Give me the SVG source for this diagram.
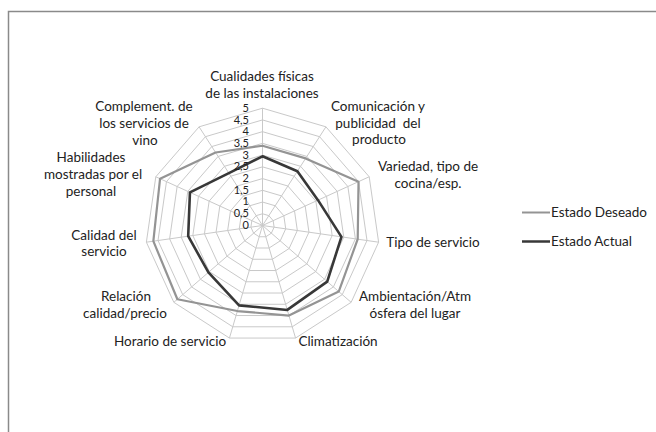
<svg xmlns="http://www.w3.org/2000/svg" width="656" height="432" viewBox="0 0 656 432">
<style>
.grid{fill:none;stroke:#c9c9c9;stroke-width:1}
.spoke{stroke:#c9c9c9;stroke-width:1}
.des{fill:none;stroke:#949494;stroke-width:2.2;stroke-linejoin:round}
.act{fill:none;stroke:#383838;stroke-width:2.6;stroke-linejoin:round}
.lbl{font-family:Lato,"Liberation Sans",sans-serif;font-size:13.5px;fill:#222222;text-anchor:middle}
.num{font-family:Lato,"Liberation Sans",sans-serif;font-size:11px;fill:#222222;text-anchor:end}
.leg{font-family:Lato,"Liberation Sans",sans-serif;font-size:13.5px;fill:#222222}
</style>
<rect x="0" y="0" width="656" height="432" fill="#ffffff"/>
<rect id="frame" x="8.5" y="11.5" width="700" height="500" fill="none" stroke="#8a8a8a" stroke-width="1.5"/>
<g id="chart" transform="translate(262.5,225.5)">
<g id="grid">
<polygon class="grid" points="0,-11.73 6.34,-9.87 10.67,-4.87 11.61,1.67 8.86,7.68 3.30,11.25 -3.30,11.25 -8.86,7.68 -11.61,1.67 -10.67,-4.87 -6.34,-9.87"/>
<polygon class="grid" points="0,-23.46 12.68,-19.74 21.34,-9.75 23.22,3.34 17.73,15.36 6.61,22.51 -6.61,22.51 -17.73,15.36 -23.22,3.34 -21.34,-9.75 -12.68,-19.74"/>
<polygon class="grid" points="0,-35.19 19.03,-29.60 32.01,-14.62 34.83,5.01 26.59,23.04 9.91,33.76 -9.91,33.76 -26.59,23.04 -34.83,5.01 -32.01,-14.62 -19.03,-29.60"/>
<polygon class="grid" points="0,-46.92 25.37,-39.47 42.68,-19.49 46.44,6.68 35.46,30.73 13.22,45.02 -13.22,45.02 -35.46,30.73 -46.44,6.68 -42.68,-19.49 -25.37,-39.47"/>
<polygon class="grid" points="0,-58.65 31.71,-49.34 53.35,-24.36 58.05,8.35 44.32,38.41 16.52,56.27 -16.52,56.27 -44.32,38.41 -58.05,8.35 -53.35,-24.36 -31.71,-49.34"/>
<polygon class="grid" points="0,-70.38 38.05,-59.21 64.02,-29.24 69.66,10.02 53.19,46.09 19.83,67.53 -19.83,67.53 -53.19,46.09 -69.66,10.02 -64.02,-29.24 -38.05,-59.21"/>
<polygon class="grid" points="0,-82.11 44.39,-69.08 74.69,-34.11 81.27,11.69 62.05,53.77 23.13,78.78 -23.13,78.78 -62.05,53.77 -81.27,11.69 -74.69,-34.11 -44.39,-69.08"/>
<polygon class="grid" points="0,-93.84 50.73,-78.94 85.36,-38.98 92.88,13.35 70.92,61.45 26.44,90.04 -26.44,90.04 -70.92,61.45 -92.88,13.35 -85.36,-38.98 -50.73,-78.94"/>
<polygon class="grid" points="0,-105.57 57.08,-88.81 96.03,-43.86 104.50,15.02 79.78,69.13 29.74,101.29 -29.74,101.29 -79.78,69.13 -104.50,15.02 -96.03,-43.86 -57.08,-88.81"/>
<polygon class="grid" points="0,-117.30 63.42,-98.68 106.70,-48.73 116.11,16.69 88.65,76.82 33.05,112.55 -33.05,112.55 -88.65,76.82 -116.11,16.69 -106.70,-48.73 -63.42,-98.68"/>
</g>
<g id="spokes">
<line class="spoke" x1="0" y1="0" x2="0" y2="-117.30"/>
<line class="spoke" x1="0" y1="0" x2="63.42" y2="-98.68"/>
<line class="spoke" x1="0" y1="0" x2="106.70" y2="-48.73"/>
<line class="spoke" x1="0" y1="0" x2="116.11" y2="16.69"/>
<line class="spoke" x1="0" y1="0" x2="88.65" y2="76.82"/>
<line class="spoke" x1="0" y1="0" x2="33.05" y2="112.55"/>
<line class="spoke" x1="0" y1="0" x2="-33.05" y2="112.55"/>
<line class="spoke" x1="0" y1="0" x2="-88.65" y2="76.82"/>
<line class="spoke" x1="0" y1="0" x2="-116.11" y2="16.69"/>
<line class="spoke" x1="0" y1="0" x2="-106.70" y2="-48.73"/>
<line class="spoke" x1="0" y1="0" x2="-63.42" y2="-98.68"/>
</g>
<g id="series-deseado">
<polygon class="des" points="0,-79.76 43.12,-67.10 96.03,-43.86 95.21,13.69 76.24,66.06 26.44,90.04 -25.12,85.54 -85.11,73.74 -109.14,15.69 -102.43,-46.78 -46.93,-73.02"/>
</g>
<g id="series-actual">
<polygon class="act" points="0,-69.21 34.88,-54.28 55.49,-25.34 78.95,11.35 64.72,56.08 24.79,84.42 -23.46,79.91 -54.07,46.85 -74.31,10.68 -72.55,-33.13 -33.61,-52.30"/>
</g>
</g>
<g id="scale">
<text class="num" x="249" y="112">5</text>
<text class="num" x="249" y="123.5">4,5</text>
<text class="num" x="249" y="135">4</text>
<text class="num" x="249" y="147">3,5</text>
<text class="num" x="249" y="158.5">3</text>
<text class="num" x="249" y="170">2,5</text>
<text class="num" x="249" y="182">2</text>
<text class="num" x="249" y="193.5">1,5</text>
<text class="num" x="249" y="205">1</text>
<text class="num" x="249" y="217">0,5</text>
<text class="num" x="249" y="228.5">0</text>
</g>
<g id="axis-labels">
<g id="ax0"><text class="lbl" x="262" y="80.5">Cualidades físicas</text><text class="lbl" x="262" y="97.5">de las instalaciones</text></g>
<g id="ax1"><text class="lbl" x="378" y="111">Comunicación y</text><text class="lbl" x="378" y="127.5" xml:space="preserve">publicidad  del</text><text class="lbl" x="379" y="144">producto</text></g>
<g id="ax2"><text class="lbl" x="428" y="171">Variedad, tipo de</text><text class="lbl" x="428" y="188">cocina/esp.</text></g>
<g id="ax3"><text class="lbl" x="433" y="247">Tipo de servicio</text></g>
<g id="ax4"><text class="lbl" x="415" y="300.5">Ambientación/Atm</text><text class="lbl" x="415" y="318">ósfera del lugar</text></g>
<g id="ax5"><text class="lbl" x="338" y="346">Climatización</text></g>
<g id="ax6"><text class="lbl" x="170" y="346">Horario de servicio</text></g>
<g id="ax7"><text class="lbl" x="126" y="301">Relación</text><text class="lbl" x="125" y="318">calidad/precio</text></g>
<g id="ax8"><text class="lbl" x="104" y="239.5">Calidad del</text><text class="lbl" x="104" y="256">servicio</text></g>
<g id="ax9"><text class="lbl" x="91" y="162">Habilidades</text><text class="lbl" x="93" y="179">mostradas por el</text><text class="lbl" x="91" y="196">personal</text></g>
<g id="ax10"><text class="lbl" x="144" y="110.5">Complement. de</text><text class="lbl" x="144" y="127.5">los servicios de</text><text class="lbl" x="145" y="144.5">vino</text></g>
</g>
<g id="legend">
<line x1="522" y1="212.5" x2="550" y2="212.5" stroke="#949494" stroke-width="2"/>
<text class="leg" x="551" y="217">Estado Deseado</text>
<line x1="522" y1="241.5" x2="550" y2="241.5" stroke="#383838" stroke-width="2.5"/>
<text class="leg" x="551" y="246">Estado Actual</text>
</g>
</svg>
